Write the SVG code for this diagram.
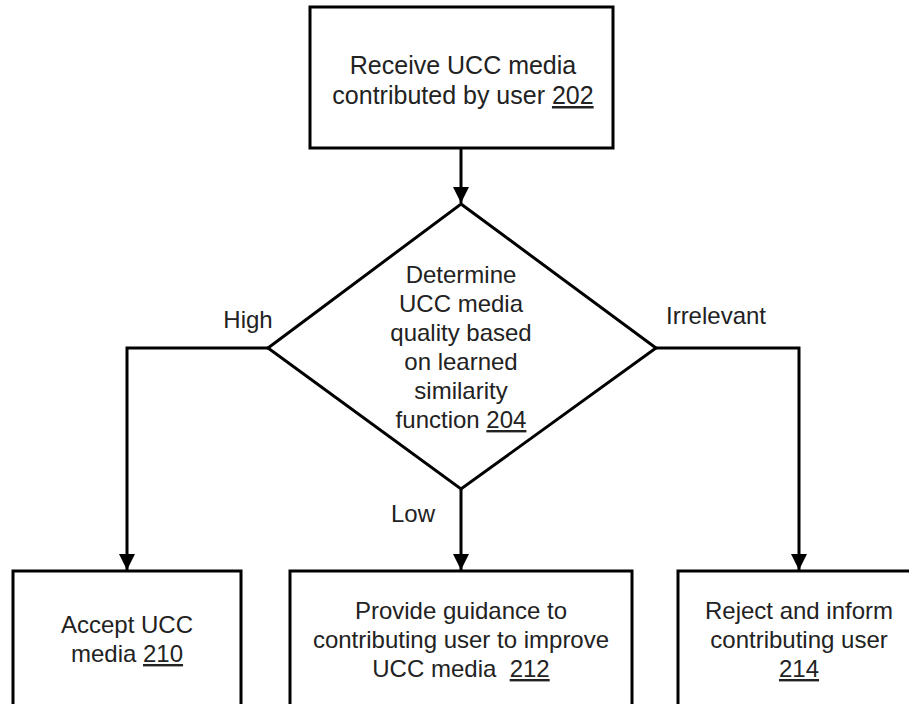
<svg xmlns="http://www.w3.org/2000/svg" width="909" height="704" viewBox="0 0 909 704">
<defs>
<style>
.box{fill:#fff;stroke:#000;stroke-width:3}
.line{fill:none;stroke:#000;stroke-width:3}
text{font-family:"Liberation Sans",Arial,sans-serif;font-size:24px;fill:#222;text-anchor:middle}
.big{font-size:25px}
.u{text-decoration:underline}
</style>
<marker id="arr" markerWidth="16" markerHeight="18" refX="16" refY="8" orient="auto" markerUnits="userSpaceOnUse" viewBox="0 0 16 16">
<path d="M0,0 L16,8 L0,16 Z" fill="#000"/>
</marker>
</defs>
<rect width="909" height="704" fill="#fff"/>
<g id="connectors">
<line class="line" x1="461" y1="148" x2="461" y2="203" marker-end="url(#arr)"/>
<polyline class="line" points="268,348 127,348 127,570" marker-end="url(#arr)"/>
<polyline class="line" points="655,348 799,348 799,570" marker-end="url(#arr)"/>
<line class="line" x1="461" y1="489" x2="461" y2="570" marker-end="url(#arr)"/>
<text x="248" y="328">High</text>
<text x="716" y="324">Irrelevant</text>
<text x="413" y="522">Low</text>
</g>
<g id="n202">
<rect class="box" x="310" y="7" width="303" height="141"/>
<text class="big" x="463" y="74">Receive UCC media</text>
<text class="big" x="463" y="104">contributed by user <tspan class="u">202</tspan></text>
</g>
<g id="n204">
<polygon class="box" points="461,204 656,348 461,489 268,348"/>
<text x="461" y="283">Determine</text>
<text x="461" y="312">UCC media</text>
<text x="461" y="341">quality based</text>
<text x="461" y="370">on learned</text>
<text x="461" y="399">similarity</text>
<text x="461" y="428">function <tspan class="u">204</tspan></text>
</g>
<g id="n210">
<rect class="box" x="13" y="571" width="228" height="150"/>
<text x="127" y="633">Accept UCC</text>
<text x="127" y="662">media <tspan class="u">210</tspan></text>
</g>
<g id="n212">
<rect class="box" x="290" y="571" width="342" height="150"/>
<text x="461" y="619">Provide guidance to</text>
<text x="461" y="648">contributing user to improve</text>
<text x="461" y="677" xml:space="preserve">UCC media  <tspan class="u">212</tspan></text>
</g>
<g id="n214">
<rect class="box" x="678" y="571" width="250" height="150"/>
<text x="799" y="619">Reject and inform</text>
<text x="799" y="648">contributing user</text>
<text x="799" y="677" class="u">214</text>
</g>
</svg>
